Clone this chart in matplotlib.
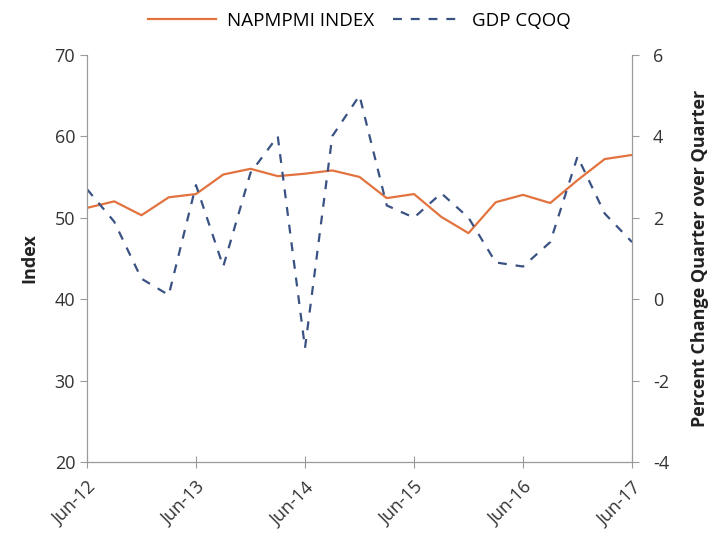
import numpy as np
import matplotlib.pyplot as plt

plt.rcParams['font.family'] = ['Open Sans', 'DejaVu Sans']
plt.rcParams['axes.unicode_minus'] = False

quarters = np.arange(21)
year_ticks = [0, 4, 8, 12, 16, 20]
year_labels = ['Jun-12', 'Jun-13', 'Jun-14', 'Jun-15', 'Jun-16', 'Jun-17']

pmi = [51.2, 52.0, 50.3, 52.5, 52.9, 55.3, 56.0, 55.1, 55.4, 55.8, 55.0,
       52.4, 52.9, 50.1, 48.1, 51.9, 52.8, 51.8, 54.6, 57.2, 57.7]
gdp = [2.7, 1.9, 0.5, 0.1, 2.8, 0.8, 3.1, 4.0, -1.2, 4.0, 5.0,
       2.3, 2.0, 2.6, 2.0, 0.9, 0.8, 1.4, 3.5, 2.1, 1.4]

fig = plt.figure(figsize=(7.19, 5.48), dpi=100)
ax = fig.add_axes([0.121, 0.157, 0.758, 0.743])
ax2 = ax.twinx()

l1, = ax.plot(quarters, pmi, color='#E2733F', lw=1.6, label='NAPMPMI INDEX')
l2, = ax2.plot(quarters, gdp, color='#3A5283', lw=1.6, ls=(0, (4, 4)), label='GDP CQOQ')

ax.set_xlim(0, 20)
ax.set_ylim(20, 70)
ax2.set_ylim(-4, 6)
ax.set_yticks(range(20, 71, 10))
ax2.set_yticks(range(-4, 7, 2))
ax.set_xticks(year_ticks)
ax.set_xticklabels(year_labels, rotation=45, ha='right', rotation_mode='anchor')

for a in (ax, ax2):
    a.spines['top'].set_visible(False)
    for s in ('left', 'right', 'bottom'):
        a.spines[s].set_color('#9a9a9a')
    a.tick_params(colors='#9a9a9a', labelcolor='#333333', labelsize=13, length=5)
ax.spines['bottom'].set_color('#777777')
ax.tick_params(axis='x', direction='inout', length=8, pad=8)
ax2.tick_params(axis='y', pad=10)

ax.set_ylabel('Index', fontsize=13, fontweight='bold', color='#222222', labelpad=12)
ax2.set_ylabel('Percent Change Quarter over Quarter', fontsize=13, fontweight='bold',
               color='#222222', labelpad=16)

fig.legend(handles=[l1, l2], loc='center', bbox_to_anchor=(0.5, 0.962), ncol=2,
           frameon=False, fontsize=13.5, handlelength=3.6, handletextpad=0.6,
           columnspacing=1.0)

fig.savefig('out.png', dpi=100)
